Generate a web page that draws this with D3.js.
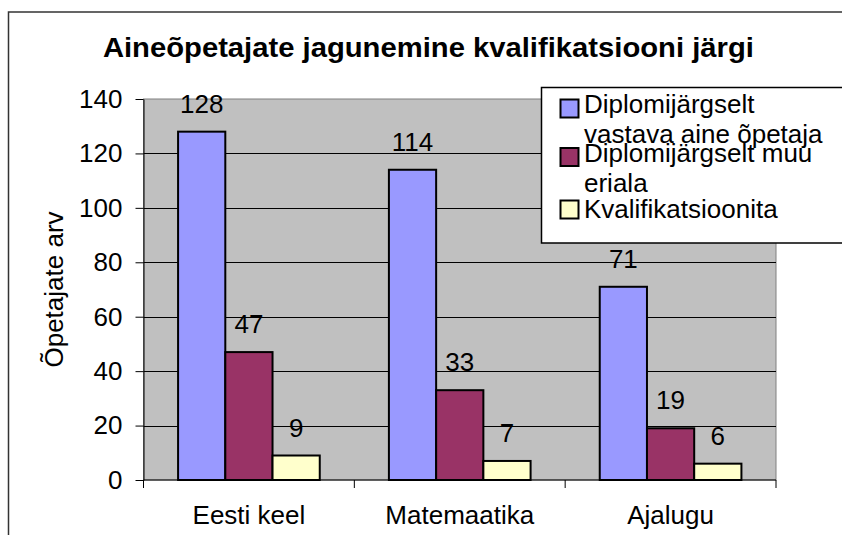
<!DOCTYPE html>
<html>
<head>
<meta charset="utf-8">
<script src="https://cdn.jsdelivr.net/npm/d3@7"></script>
<style>
  body { margin: 0; background: #fff; }
  text { font-family: "Liberation Sans", Arial, sans-serif; fill: #000; }
</style>
</head>
<body>
<div id="chart"></div>
<script>
// data
const categories = ["Eesti keel", "Matemaatika", "Ajalugu"];
const seriesNames = ["Diplomijärgselt vastava aine õpetaja", "Diplomijärgselt muu eriala", "Kvalifikatsioonita"];
const legendLines = [["Diplomijärgselt", "vastava aine õpetaja"], ["Diplomijärgselt muu", "eriala"], ["Kvalifikatsioonita"]];
const vastava = [128, 114, 71];
const muu = [47, 33, 19];
const kvalifikatsioonita = [9, 7, 6];
const yTicks = [0, 20, 40, 60, 80, 100, 120, 140];
const colors = ["#9999FF", "#993366", "#FFFFCC"];

const values = [vastava, muu, kvalifikatsioonita];
const data = [];
categories.forEach((c, i) => {
    seriesNames.forEach((s, j) => {
        data.push({cat: c, series: s, idx: j, value: values[j][i]});
    });
});

let W = 842, H = 535;
let plot = {left: 143.5, right: 776, top: 99, bottom: 480};
let fs = "26px";

let svg = d3.select("#chart").append("svg")
    .attr("width", W).attr("height", H);

// outer chart border
svg.append("rect")
   .attr("x", 8.5).attr("y", 12).attr("width", 900).attr("height", 600)
   .attr("fill", "#fff").attr("stroke", "#333").attr("stroke-width", 1.5);

// title
svg.append("text")
   .attr("x", 428.4).attr("y", 56.5)
   .attr("text-anchor", "middle")
   .attr("textLength", 651).attr("lengthAdjust", "spacingAndGlyphs")
   .style("font-size", "27px").style("font-weight", "bold")
   .text("Aineõpetajate jagunemine kvalifikatsiooni järgi");

// scales
let x0 = d3.scaleBand().domain(categories).range([plot.left, plot.right]).padding(0);
let gap = x0.bandwidth() * 0.164;
let x1 = d3.scaleBand().domain(seriesNames).range([gap, x0.bandwidth() - gap]).padding(0);
let y = d3.scaleLinear().domain([0, 140]).range([plot.bottom, plot.top]);

// plot area
svg.append("rect")
   .attr("x", plot.left).attr("y", plot.top)
   .attr("width", plot.right - plot.left).attr("height", plot.bottom - plot.top)
   .attr("fill", "#C0C0C0").attr("stroke", "#808080").attr("stroke-width", 1);

// gridlines
svg.append("g").selectAll("line")
   .data(yTicks.filter(t => t > 0 && t < 140))
   .enter().append("line")
   .attr("x1", plot.left).attr("x2", plot.right)
   .attr("y1", d => Math.round(y(d)) + 0.5).attr("y2", d => Math.round(y(d)) + 0.5)
   .attr("stroke", "#000").attr("stroke-width", 1);

// bars
svg.append("g").selectAll("rect")
   .data(data)
   .enter().append("rect")
   .attr("x", d => x0(d.cat) + x1(d.series))
   .attr("y", d => y(d.value))
   .attr("width", x1.bandwidth())
   .attr("height", d => y(0) - y(d.value))
   .attr("fill", d => colors[d.idx])
   .attr("stroke", "#000").attr("stroke-width", 2);

// value labels
svg.append("g").selectAll("text")
   .data(data)
   .enter().append("text")
   .attr("x", d => x0(d.cat) + x1(d.series) + x1.bandwidth() / 2)
   .attr("y", d => y(d.value) - 19)
   .attr("text-anchor", "middle")
   .style("font-size", fs)
   .text(d => d.value);

// y axis
let yAxis = d3.axisLeft(y).tickValues(yTicks).tickSize(8).tickPadding(13).tickSizeOuter(0);
let gy = svg.append("g")
   .attr("transform", "translate(" + plot.left + ",0)")
   .call(yAxis);
gy.selectAll("text").style("font-size", fs).attr("font-family", null);
gy.selectAll("line,path").attr("stroke", "#000");

// x axis ticks at category boundaries
let bounds = categories.map(c => x0(c)).concat([plot.right]);
svg.append("line")
   .attr("x1", plot.left).attr("x2", plot.right)
   .attr("y1", plot.bottom).attr("y2", plot.bottom)
   .attr("stroke", "#000").attr("stroke-width", 1);
svg.append("g").selectAll("line")
   .data(bounds)
   .enter().append("line")
   .attr("x1", d => d).attr("x2", d => d)
   .attr("y1", plot.bottom).attr("y2", plot.bottom + 8)
   .attr("stroke", "#000").attr("stroke-width", 1);

// category labels
let xAxis = d3.axisBottom(x0).tickSize(0).tickPadding(26);
let gx = svg.append("g")
   .attr("transform", "translate(0," + plot.bottom + ")")
   .call(xAxis);
gx.select(".domain").remove();
gx.selectAll("text").style("font-size", fs).attr("font-family", null);

// y axis title
svg.append("text")
   .attr("transform", "translate(62.5," + ((plot.top + plot.bottom) / 2) + ") rotate(-90)")
   .attr("text-anchor", "middle")
   .style("font-size", fs)
   .text("Õpetajate arv");

// legend
let legend = svg.append("g");
legend.append("rect")
   .attr("x", 541.5).attr("y", 87.5).attr("width", 320).attr("height", 155.5)
   .attr("fill", "#fff").attr("stroke", "#000").attr("stroke-width", 1.5);
let swatchY = [99.5, 148, 200.5];
let lineY = [[113.3, 142.5], [162, 191.7], [218]];
seriesNames.forEach((s, i) => {
    legend.append("rect")
       .attr("x", 560.5).attr("y", swatchY[i]).attr("width", 18).attr("height", 18)
       .attr("fill", colors[i]).attr("stroke", "#000").attr("stroke-width", 2);
    legendLines[i].forEach((ln, k) => {
        legend.append("text")
           .attr("x", 584).attr("y", lineY[i][k])
           .style("font-size", fs)
           .text(ln);
    });
});
</script>
</body>
</html>
